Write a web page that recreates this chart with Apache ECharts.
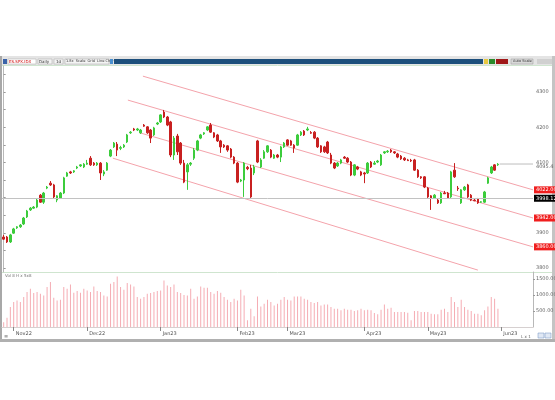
<!DOCTYPE html>
<html>
<head>
<meta charset="utf-8">
<script src="https://cdn.jsdelivr.net/npm/echarts@6/dist/echarts.min.js"></script>
<style>
html, body { margin: 0; padding: 0; background: #fff; }
#chart { width: 555px; height: 400px; }
</style>
</head>
<body>
<div id="chart"></div>
<script>
// daily bars
const opens = [
  3888, 3888, 3874, 3899, 3914, 3917, 3925, 3945, 3965, 3970,
  3973, 4007, 3987, 4027, 4041, 4036, 3993, 3999, 4013, 4061,
  4073, 4073, 4084, 4090, 4087, 4095, 4112, 4098, 4093, 4098,
  4067, 4078, 4118, 4144, 4152, 4140, 4144, 4158, 4184, 4195,
  4192, 4184, 4206, 4201, 4192, 4178, 4209, 4215, 4243, 4229,
  4215, 4121, 4175, 4155, 4098, 4073, 4095, 4112, 4135, 4169,
  4181, 4192, 4206, 4184, 4178, 4161, 4149, 4147, 4138, 4115,
  4098, 4047, 4050, 4086, 4084, 4070, 4161, 4087, 4112, 4130,
  4135, 4112, 4121, 4115, 4144, 4164, 4161, 4149, 4149, 4178,
  4189, 4192, 4185, 4186, 4169, 4147, 4144, 4158, 4121, 4098,
  4090, 4098, 4115, 4112, 4101, 4064, 4087, 4073, 4070, 4070,
  4101, 4095, 4101, 4093, 4127, 4130, 4135, 4130, 4124, 4118,
  4112, 4107, 4106, 4107, 4078, 4059, 4059, 4027, 4005, 3999,
  3993, 3985, 4013, 4013, 4002, 4078, 4027, 3985, 4022, 4036,
  4007, 3993, 3996, 3987, 3987, 4041, 4070, 4093, 4093
];
const closes = [
  3882, 3874, 3894, 3911, 3917, 3922, 3942, 3962, 3970, 3973,
  3993, 3987, 4013, 4030, 4036, 4002, 4005, 4013, 4056, 4070,
  4070, 4076, 4087, 4093, 4095, 4098, 4093, 4093, 4098, 4070,
  4073, 4098, 4135, 4155, 4135, 4142, 4149, 4178, 4186, 4192,
  4195, 4192, 4203, 4184, 4169, 4198, 4212, 4235, 4229, 4206,
  4121, 4169, 4130, 4098, 4044, 4093, 4098, 4135, 4161, 4178,
  4184, 4201, 4186, 4172, 4161, 4144, 4144, 4135, 4115, 4098,
  4044, 4050, 4098, 4082, 4002, 4087, 4101, 4107, 4130, 4147,
  4115, 4121, 4115, 4144, 4155, 4149, 4149, 4141, 4178, 4186,
  4178, 4195, 4183, 4169, 4144, 4130, 4130, 4127, 4098, 4084,
  4098, 4107, 4112, 4101, 4064, 4093, 4081, 4064, 4067, 4098,
  4087, 4098, 4104, 4121, 4130, 4132, 4130, 4127, 4115, 4110,
  4107, 4105, 4104, 4078, 4059, 4056, 4030, 4002, 3999, 4007,
  3985, 4013, 4011, 3999, 4073, 4059, 4025, 4022, 4030, 4002,
  3993, 3991, 3985, 3988, 4016, 4056, 4087, 4078, 4095
];
const lows = [
  3880, 3871, 3871, 3897, 3911, 3914, 3922, 3942, 3962, 3968,
  3970, 3985, 3982, 4024, 4033, 3996, 3987, 3996, 4010, 4059,
  4067, 4070, 4081, 4087, 4084, 4093, 4090, 4090, 4090, 4050,
  4061, 4076, 4115, 4141, 4118, 4135, 4141, 4155, 4181, 4189,
  4189, 4181, 4201, 4181, 4155, 4175, 4206, 4212, 4226, 4203,
  4115, 4107, 4121, 4093, 4041, 4022, 4090, 4107, 4132, 4166,
  4178, 4189, 4184, 4169, 4158, 4127, 4141, 4130, 4112, 4095,
  4041, 4044, 4002, 4078, 3999, 4064, 4098, 4084, 4110, 4127,
  4112, 4110, 4112, 4101, 4141, 4147, 4147, 4127, 4147, 4175,
  4175, 4189, 4181, 4166, 4141, 4127, 4127, 4124, 4095, 4081,
  4087, 4095, 4110, 4098, 4061, 4061, 4078, 4061, 4041, 4067,
  4084, 4093, 4098, 4090, 4124, 4127, 4127, 4124, 4112, 4107,
  4104, 4104, 4101, 4076, 4056, 4053, 4027, 3999, 3965, 3996,
  3982, 3982, 4010, 3996, 3999, 4056, 4019, 3982, 4019, 3999,
  3990, 3990, 3982, 3985, 3985, 4039, 4067, 4076, 4090
];
const highs = [
  3894, 3891, 3897, 3914, 3919, 3925, 3945, 3965, 3973, 3976,
  3996, 4010, 4016, 4033, 4047, 4039, 4007, 4016, 4059, 4073,
  4076, 4078, 4090, 4095, 4098, 4107, 4118, 4101, 4101, 4101,
  4078, 4101, 4138, 4158, 4158, 4147, 4152, 4181, 4189, 4198,
  4198, 4195, 4209, 4203, 4195, 4201, 4215, 4237, 4249, 4232,
  4218, 4175, 4181, 4158, 4107, 4098, 4101, 4141, 4164, 4181,
  4186, 4203, 4212, 4186, 4181, 4164, 4152, 4149, 4141, 4118,
  4101, 4053, 4101, 4090, 4093, 4093, 4164, 4112, 4135, 4149,
  4138, 4124, 4124, 4147, 4158, 4166, 4164, 4152, 4181, 4189,
  4192, 4201, 4189, 4189, 4172, 4149, 4147, 4161, 4127, 4101,
  4101, 4110, 4118, 4115, 4104, 4095, 4090, 4076, 4073, 4101,
  4104, 4104, 4107, 4124, 4132, 4135, 4138, 4132, 4127, 4121,
  4115, 4110, 4110, 4110, 4081, 4061, 4061, 4030, 4007, 4010,
  3996, 4016, 4019, 4016, 4076, 4098, 4033, 4024, 4033, 4039,
  4010, 3996, 3999, 3990, 4019, 4059, 4090, 4095, 4098
];
const volumes = [
  150, 290, 625, 780, 832, 780, 936, 1092, 1196, 1061,
  1092, 1040, 988, 1248, 1404, 915, 832, 853, 1248, 1196,
  1331, 1071, 1123, 1071, 1196, 1144, 1092, 1269, 1123, 1092,
  988, 957, 1352, 1404, 1581, 1248, 1165, 1373, 1331, 1269,
  936, 884, 936, 1040, 1061, 1092, 1123, 1144, 1456, 1300,
  1248, 1331, 1092, 1061, 1000, 988, 1196, 884, 957, 1269,
  1227, 1227, 1092, 1040, 1123, 1071, 936, 853, 780, 884,
  832, 1165, 988, 208, 572, 333, 957, 645, 728, 853,
  780, 676, 728, 853, 936, 853, 832, 957, 957, 957,
  884, 853, 780, 749, 780, 676, 707, 707, 624, 572,
  572, 520, 572, 541, 541, 499, 520, 572, 520, 541,
  520, 437, 395, 541, 707, 572, 603, 468, 468, 468,
  468, 447, 208, 499, 499, 468, 468, 468, 416, 395,
  395, 541, 572, 468, 936, 780, 624, 853, 624, 541,
  499, 416, 416, 364, 520, 645, 936, 884, 572
];

// month labels on the date axis and the bar where each month starts
const monthLabels = ['Nov22', 'Dec22', 'Jan23', 'Feb23', 'Mar23', 'Apr23', 'May23', 'Jun23'];
const monthStarts = [3, 25, 47, 70, 85, 108, 127, 149];

const priceTicks = [3800, 3900, 4000, 4100, 4200, 4300];
const priceMinorTicks = [3800, 3850, 3900, 3950, 4000, 4050, 4100, 4150, 4200, 4250, 4300, 4350];
const volumeTicks = [500, 1000, 1500];

// channel lines: [bar index, price] at start and end
const channelA = [[41.7, 4345], [158.5, 4022]];
const channelB = [[37.2, 4277], [158.5, 3942]];
const channelC = [[40.8, 4184], [158.5, 3860]];
const channelD = [[32.7, 4112], [142, 3794]];
const levelLine = 3998.12;
const lastPrice = 4095.4;

const emptySlots = 10;
const total = opens.length + emptySlots;
const categories = Array.from({ length: total }, (v, i) => String(i));

const chart = echarts.init(document.getElementById('chart'));

const fontFamily = 'DejaVu Sans';
const channelColor = '#f4a3ab';
const isMonthStart = index => monthStarts.indexOf(index) >= 0;

function channelSeries(name, data, tagged) {
  return {
    name,
    type: 'line',
    xAxisIndex: 2,
    yAxisIndex: 0,
    data,
    symbol: 'none',
    silent: true,
    z: 1,
    lineStyle: { color: channelColor, width: 1 },
    endLabel: {
      show: tagged,
      formatter: p => p.value[1].toFixed(2),
      backgroundColor: '#f01e1e',
      color: '#fff',
      fontSize: 5,
      fontFamily,
      padding: [1, 2],
      distance: 1
    }
  };
}

const grid = [
  { left: 2, right: 22, top: 66, height: 206, outerBoundsMode: 'none' },
  { left: 2, right: 22, top: 272, height: 55, outerBoundsMode: 'none' }
];

const xAxis = [
  {
    type: 'category',
    gridIndex: 0,
    data: categories,
    axisLine: { show: false },
    axisTick: { show: false },
    axisLabel: { show: false }
  },
  {
    type: 'category',
    gridIndex: 1,
    data: categories,
    axisLine: { lineStyle: { color: '#d6d0d0' } },
    axisTick: {
      show: true,
      alignWithLabel: true,
      interval: isMonthStart,
      length: 4,
      lineStyle: { color: '#888' }
    },
    axisLabel: {
      interval: isMonthStart,
      formatter: (value, index) => monthLabels[monthStarts.indexOf(index)],
      fontSize: 5,
      fontFamily,
      color: '#555',
      align: 'left',
      margin: 4,
      padding: [0, 0, 0, 2]
    }
  },
  {
    type: 'value',
    gridIndex: 0,
    min: -0.5,
    max: total - 0.5,
    show: false
  }
];

const yAxis = [
  {
    type: 'value',
    gridIndex: 0,
    position: 'right',
    min: 3788.6,
    max: 4373.9,
    axisLine: { show: true, lineStyle: { color: '#b8b8b8' } },
    axisTick: { show: true, customValues: priceMinorTicks, length: 2, lineStyle: { color: '#999' } },
    axisLabel: {
      customValues: priceTicks,
      fontSize: 5,
      fontFamily,
      color: '#666',
      margin: 3,
      formatter: v => v.toFixed(0)
    },
    splitLine: { show: false }
  },
  {
    type: 'value',
    gridIndex: 1,
    position: 'right',
    min: 0,
    max: 1720,
    axisLine: { show: true, lineStyle: { color: '#b8b8b8' } },
    axisTick: { show: true, customValues: volumeTicks, length: 2, lineStyle: { color: '#999' } },
    axisLabel: {
      customValues: volumeTicks,
      fontSize: 5,
      fontFamily,
      color: '#666',
      margin: 3,
      formatter: v => v.toFixed(2)
    },
    splitLine: { show: false }
  }
];

const graphic = [
  { type: 'rect', shape: { x: 0, y: 56, width: 555, height: 9 }, style: { fill: '#e4e4e4' }, silent: true },
  { type: 'rect', shape: { x: 3, y: 59, width: 4, height: 5 }, style: { fill: '#3a62a8' }, silent: true },
  { type: 'rect', shape: { x: 8, y: 59, width: 28, height: 5 }, style: { fill: '#fff', stroke: '#aaa', lineWidth: 0.5 }, silent: true },
  { type: 'text', x: 9, y: 59.5, style: { text: 'ES.SPX.IDX', fontSize: 4, fontFamily, fill: '#c00' }, silent: true },
  { type: 'rect', shape: { x: 38, y: 59, width: 14, height: 5 }, style: { fill: '#f4f4f4', stroke: '#aaa', lineWidth: 0.5 }, silent: true },
  { type: 'text', x: 39, y: 59.5, style: { text: 'Daily', fontSize: 4, fontFamily, fill: '#333' }, silent: true },
  { type: 'rect', shape: { x: 54, y: 59, width: 9, height: 5 }, style: { fill: '#f4f4f4', stroke: '#aaa', lineWidth: 0.5 }, silent: true },
  { type: 'text', x: 56, y: 59.5, style: { text: '1d', fontSize: 4, fontFamily, fill: '#333' }, silent: true },
  { type: 'rect', shape: { x: 65, y: 59, width: 44, height: 5 }, style: { fill: '#f4f4f4', stroke: '#aaa', lineWidth: 0.5 }, silent: true },
  { type: 'text', x: 66, y: 59.5, style: { text: '1.8x  Scale  Grid  Line Chart', fontSize: 3.5, fontFamily, fill: '#333' }, silent: true },
  { type: 'rect', shape: { x: 110, y: 59, width: 3, height: 5 }, style: { fill: '#4a90d0' }, silent: true },
  { type: 'rect', shape: { x: 114, y: 59, width: 369, height: 5 }, style: { fill: '#1d4f7c' }, silent: true },
  { type: 'rect', shape: { x: 484, y: 59, width: 4, height: 5 }, style: { fill: '#e8c840' }, silent: true },
  { type: 'rect', shape: { x: 489, y: 59, width: 6, height: 5 }, style: { fill: '#2a8a2a' }, silent: true },
  { type: 'rect', shape: { x: 496, y: 59, width: 12, height: 5 }, style: { fill: '#a01818' }, silent: true },
  { type: 'rect', shape: { x: 511, y: 59, width: 22, height: 5 }, style: { fill: '#d8d8d8', stroke: '#999', lineWidth: 0.5 }, silent: true },
  { type: 'text', x: 513, y: 59.5, style: { text: 'Auto Scale', fontSize: 3.5, fontFamily, fill: '#333' }, silent: true },
  { type: 'rect', shape: { x: 537, y: 59, width: 15, height: 5 }, style: { fill: '#d0d0d0' }, silent: true },
  { type: 'line', shape: { x1: 2, y1: 65.5, x2: 553, y2: 65.5 }, style: { stroke: '#cfe5cf', lineWidth: 1 }, silent: true },
  { type: 'line', shape: { x1: 2, y1: 272.5, x2: 553, y2: 272.5 }, style: { stroke: '#cfe5cf', lineWidth: 1 }, silent: true },
  { type: 'text', x: 5, y: 274, style: { text: 'Vol 8 H x 5x8', fontSize: 4, fontFamily, fill: '#777' }, silent: true },
  { type: 'rect', shape: { x: 0, y: 56, width: 2, height: 286 }, style: { fill: '#a8a8a8' }, silent: true },
  { type: 'rect', shape: { x: 552, y: 56, width: 3, height: 286 }, style: { fill: '#c4c4c4' }, silent: true },
  { type: 'rect', shape: { x: 0, y: 339, width: 555, height: 3 }, style: { fill: '#b0b0b0' }, silent: true },
  { type: 'text', x: 4, y: 334, style: { text: '\u2261', fontSize: 5, fontFamily, fill: '#666' }, silent: true },
  { type: 'text', x: 521, y: 335, style: { text: 'L x 1', fontSize: 4, fontFamily, fill: '#666' }, silent: true },
  { type: 'rect', shape: { x: 538, y: 333, width: 6, height: 5 }, style: { fill: '#e0e8f4', stroke: '#7090c0', lineWidth: 0.5 }, silent: true },
  { type: 'rect', shape: { x: 545, y: 333, width: 6, height: 5 }, style: { fill: '#e0e8f4', stroke: '#7090c0', lineWidth: 0.5 }, silent: true }
];

const option = {
  animation: false,
  backgroundColor: '#fff',
  grid,
  xAxis,
  yAxis,
  graphic,
  series: [
    {
      name: 'price',
      type: 'candlestick',
      xAxisIndex: 0,
      yAxisIndex: 0,
      data: opens.map((o, i) => [o, closes[i], lows[i], highs[i]]),
      barWidth: 2,
      z: 3,
      itemStyle: {
        color: '#3ccc3c',
        color0: '#c82020',
        borderColor: '#3ccc3c',
        borderColor0: '#c82020',
        borderWidth: 1
      },
      markLine: {
        silent: true,
        symbol: 'none',
        lineStyle: { color: '#c2c2c2', type: 'solid', width: 1 },
        label: {
          position: 'end',
          distance: 1,
          formatter: p => p.value.toFixed(2),
          backgroundColor: '#000',
          color: '#fff',
          fontSize: 5,
          fontFamily,
          padding: [1, 2]
        },
        data: [{ yAxis: levelLine }]
      }
    },
    channelSeries('A', channelA, true),
    channelSeries('B', channelB, true),
    channelSeries('C', channelC, true),
    channelSeries('D', channelD, false),
    {
      name: 'last',
      type: 'line',
      xAxisIndex: 2,
      yAxisIndex: 0,
      data: [[opens.length - 0.5, lastPrice], [total - 0.5, lastPrice]],
      symbol: 'none',
      silent: true,
      lineStyle: { color: '#bdbdbd', width: 1 },
      endLabel: {
        show: true,
        formatter: p => p.value[1].toFixed(1),
        color: '#666',
        fontSize: 5,
        fontFamily,
        offset: [0, 3],
        distance: 3
      }
    },
    {
      name: 'volume',
      type: 'bar',
      xAxisIndex: 1,
      yAxisIndex: 1,
      data: volumes,
      barWidth: 1,
      itemStyle: { color: '#f5acb3' }
    }
  ]
};

chart.setOption(option);
</script>
</body>
</html>
